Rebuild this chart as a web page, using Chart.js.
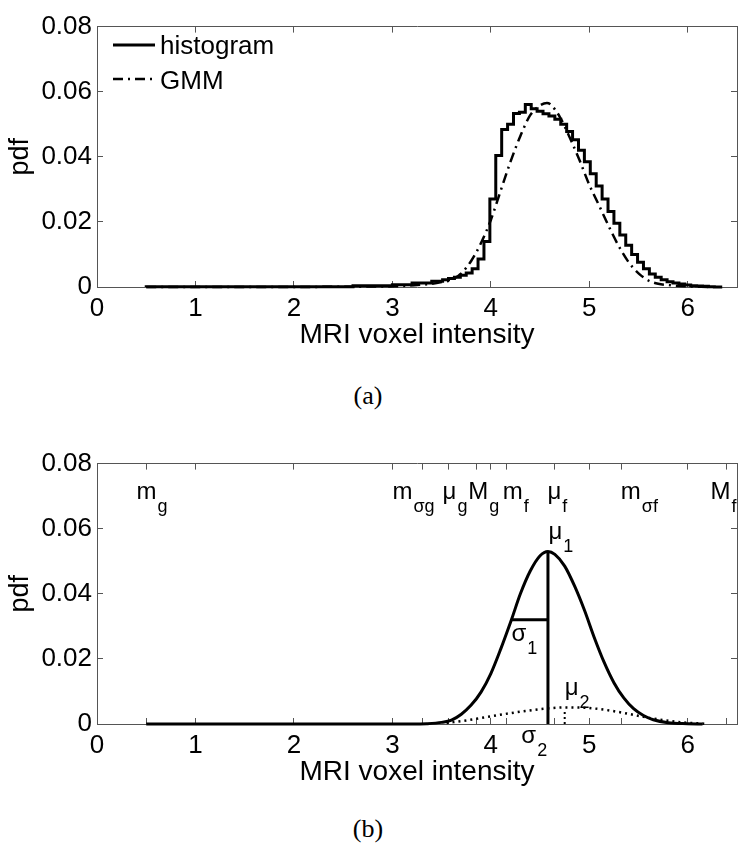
<!DOCTYPE html>
<html>
<head>
<meta charset="utf-8">
<script src="https://cdn.jsdelivr.net/npm/chart.js@4.4.1/dist/chart.umd.min.js"></script>
<style>
body { margin: 0; background: #fff; width: 750px; height: 855px; position: relative; overflow: hidden; }
.box { position: absolute; left: 0; width: 750px; height: 352px; }
#boxA { top: 0; }
#boxB { top: 437px; }
.cap { position: absolute; left: 0; width: 736px; text-align: center; line-height: 30px;
       font: 26px "Liberation Serif", "Times New Roman", serif; color: #000; }
</style>
</head>
<body>
<div class="box" id="boxA"><canvas id="chartA" width="750" height="352"></canvas></div>
<div class="cap" style="top:381px">(a)</div>
<div class="box" id="boxB"><canvas id="chartB" width="750" height="352"></canvas></div>
<div class="cap" style="top:814px">(b)</div>
<script>
// ---- data ----
// (a) histogram, bin left edges and heights (stepped)
const histX = [0.5, 2.6, 3.0, 3.2, 3.4, 3.51, 3.57, 3.63, 3.69, 3.75, 3.81, 3.87, 3.93, 3.99, 4.05,
  4.11, 4.17, 4.23, 4.29, 4.35, 4.41, 4.47, 4.53, 4.59, 4.65, 4.71, 4.77, 4.83, 4.89, 4.95,
  5.01, 5.07, 5.13, 5.19, 5.25, 5.31, 5.37, 5.43, 5.49, 5.55, 5.61, 5.67, 5.73, 5.79, 5.85,
  5.91, 5.97, 6.03, 6.09, 6.15, 6.21, 6.27, 6.35];
const histY = [0, 0.0001, 0.0004, 0.0007, 0.0012, 0.0018, 0.0022, 0.0026, 0.0030, 0.0036, 0.0043, 0.0056, 0.0086, 0.0140, 0.0270,
  0.0404, 0.0484, 0.0500, 0.0533, 0.0537, 0.0561, 0.0548, 0.0540, 0.0532, 0.0525, 0.0515, 0.0500, 0.0478, 0.0452, 0.0420,
  0.0385, 0.0348, 0.0310, 0.0270, 0.0232, 0.0196, 0.0160, 0.0128, 0.0100, 0.0076, 0.0056, 0.0040, 0.0030, 0.0022, 0.0016,
  0.0012, 0.0009, 0.0006, 0.0004, 0.0003, 0.0002, 0.0001, 0];

// (a) GMM fit
const gmmX = [0.5, 1, 2, 2.5, 3.0, 3.2, 3.4, 3.5, 3.6, 3.7, 3.8, 3.9, 4.0, 4.1, 4.2, 4.3, 4.4, 4.5, 4.57,
  4.6, 4.7, 4.8, 4.9, 5.0, 5.1, 5.2, 5.3, 5.4, 5.5, 5.6, 5.7, 5.8, 6.0, 6.2];
const gmmY = [0, 0, 0, 0.0001, 0.0002, 0.0005, 0.001, 0.0015, 0.0022, 0.0042, 0.008, 0.0135, 0.0206, 0.0296, 0.0385, 0.0464, 0.0528, 0.0558, 0.0565,
  0.0562, 0.0523, 0.046, 0.039, 0.0314, 0.025, 0.0185, 0.0125, 0.0076, 0.0042, 0.002, 0.001, 0.0006, 0.0002, 0];

// (b) first component (solid)
const comp1X = [0.5, 2.0, 3.2, 3.35, 3.5, 3.6, 3.7, 3.8, 3.9, 4.0, 4.1, 4.21, 4.3, 4.4, 4.5, 4.58,
  4.65, 4.75, 4.85, 4.95, 5.05, 5.15, 5.25, 5.35, 5.45, 5.55, 5.65, 5.8, 6.0, 6.15];
const comp1Y = [0, 0, 0, 0.0001, 0.0005, 0.0012, 0.0030, 0.0058, 0.0098, 0.0155, 0.0230, 0.0321, 0.0400, 0.0470, 0.0517, 0.0530,
  0.0521, 0.0485, 0.0424, 0.0350, 0.0266, 0.0190, 0.0127, 0.0080, 0.0047, 0.0026, 0.0013, 0.0004, 0.0001, 0];

// (b) second component (dotted)
const comp2X = [3.55, 3.75, 3.95, 4.15, 4.35, 4.55, 4.75, 4.95, 5.15, 5.35, 5.55, 5.75, 5.95, 6.17];
const comp2Y = [0.0003, 0.0011, 0.0021, 0.0031, 0.0040, 0.0047, 0.0051, 0.0050, 0.0044, 0.0034, 0.0022, 0.0012, 0.0005, 0.0001];

// (b) mean / sigma markers
const mu1 = 4.58, mu1Peak = 0.053;
const sigma1Left = 4.21, sigma1Level = 0.032;
const mu2 = 4.75, mu2Peak = 0.0046;

// (b) extra tick positions (m_g, m_sg, mu_g, M_g, m_f, mu_f, m_sf, M_f)
const markerTicks = [0.5, 3.31, 3.57, 3.85, 4.16, 4.65, 5.33, 6.39];
const intTicks = [0, 1, 2, 3, 4, 5, 6];
const yTicks = [0, 0.02, 0.04, 0.06, 0.08];

// text labels of (b): main letter, subscript, left edge x, baseline y
const markLabels = [
  ['m', 'g', 0.40, 0.069], ['m', 'σg', 3.0, 0.069], ['μ', 'g', 3.51, 0.069],
  ['M', 'g', 3.77, 0.069], ['m', 'f', 4.12, 0.069], ['μ', 'f', 4.575, 0.069],
  ['m', 'σf', 5.32, 0.069], ['M', 'f', 6.23, 0.069],
  ['μ', '1', 4.585, 0.0568], ['σ', '1', 4.21, 0.0256],
  ['μ', '2', 4.75, 0.0088], ['σ', '2', 4.31, -0.0058]
];

function pts(xs, ys) {
  return xs.map((x, i) => ({ x: x, y: ys[i] }));
}

const SANS = '"Liberation Sans", Arial, sans-serif';

// legend drawn inside the plot, lines stacked like the original
const innerLegend = {
  id: 'innerLegend',
  afterDraw(chart, args, opts) {
    if (!opts.rows) return;
    const ctx = chart.ctx;
    ctx.save();
    opts.rows.forEach((r) => {
      const ds = chart.data.datasets[r.index];
      ctx.strokeStyle = ds.borderColor;
      ctx.lineWidth = ds.borderWidth;
      ctx.setLineDash(ds.borderDash || []);
      ctx.beginPath();
      ctx.moveTo(113, r.lineY);
      ctx.lineTo(155, r.lineY);
      ctx.stroke();
      ctx.setLineDash([]);
      ctx.fillStyle = '#000';
      ctx.font = '26px ' + SANS;
      ctx.textBaseline = 'alphabetic';
      ctx.fillText(ds.label, 160, r.baseY);
    });
    ctx.restore();
  }
};

// subscripted labels placed through the scales
const subLabels = {
  id: 'subLabels',
  afterDatasetsDraw(chart, args, opts) {
    if (!opts.items) return;
    const ctx = chart.ctx;
    const xs = chart.scales.x, ys = chart.scales.y;
    ctx.save();
    ctx.fillStyle = '#000';
    ctx.textAlign = 'left';
    ctx.textBaseline = 'alphabetic';
    opts.items.forEach((it) => {
      const px = xs.getPixelForValue(it[2]);
      const py = ys.getPixelForValue(it[3]);
      ctx.font = '24px ' + SANS;
      ctx.fillText(it[0], px, py);
      const w = ctx.measureText(it[0]).width;
      ctx.font = '18px ' + SANS;
      ctx.fillText(it[1], px + w + 1, py + 13);
    });
    ctx.restore();
  }
};

function axes(extraTicks) {
  const frame = { color: '#555', width: 1 };
  const tickVals = extraTicks ? intTicks.concat(extraTicks).sort((a, b) => a - b) : intTicks;
  return {
    x: {
      type: 'linear', position: 'bottom', min: 0, max: 6.5,
      border: frame,
      grid: { drawOnChartArea: false, tickLength: -6, color: '#555' },
      ticks: {
        autoSkip: false, maxRotation: 0, padding: 12, color: '#000',
        font: { family: SANS, size: 26 },
        callback: (v) => (Number.isInteger(v) ? String(v) : '')
      },
      afterBuildTicks: (s) => { s.ticks = tickVals.map((v) => ({ value: v })); },
      title: { display: true, text: 'MRI voxel intensity', color: '#000', font: { family: SANS, size: 28 }, padding: 0 },
      afterFit: (s) => { s.height = 65; }
    },
    x2: {
      type: 'linear', position: 'top', min: 0, max: 6.5,
      border: frame,
      grid: { drawOnChartArea: false, tickLength: -6, color: '#555' },
      ticks: { display: false, autoSkip: false },
      afterBuildTicks: (s) => { s.ticks = tickVals.map((v) => ({ value: v })); },
      afterFit: (s) => { s.height = 18; }
    },
    y: {
      type: 'linear', position: 'left', min: 0, max: 0.08,
      border: frame,
      grid: { drawOnChartArea: false, tickLength: -6, color: '#555' },
      ticks: {
        padding: 11, color: '#000', font: { family: SANS, size: 26 },
        callback: (v) => (v === 0 ? '0' : v.toFixed(2))
      },
      afterBuildTicks: (s) => { s.ticks = yTicks.map((v) => ({ value: v })); },
      title: { display: true, text: 'pdf', color: '#000', font: { family: SANS, size: 27 }, padding: { top: 4, bottom: 0 } },
      afterFit: (s) => { s.width = 97; }
    },
    y2: {
      type: 'linear', position: 'right', min: 0, max: 0.08,
      border: frame,
      grid: { drawOnChartArea: false, tickLength: -6, color: '#555' },
      ticks: { display: false },
      afterBuildTicks: (s) => { s.ticks = yTicks.map((v) => ({ value: v })); },
      afterFit: (s) => { s.width = 13; }
    }
  };
}

const baseOpts = {
  responsive: false,
  animation: false,
  layout: { padding: 0 },
  elements: { point: { radius: 0 } }
};

new Chart(document.getElementById('chartA'), {
  type: 'line',
  data: {
    datasets: [
      { label: 'histogram', data: pts(histX, histY), stepped: 'after', borderColor: '#000', borderWidth: 3, clip: 5 },
      { label: 'GMM', data: pts(gmmX, gmmY), borderColor: '#000', borderWidth: 2.5, borderDash: [10, 5, 2, 5],
        cubicInterpolationMode: 'monotone', clip: 5 }
    ]
  },
  options: Object.assign({}, baseOpts, {
    scales: axes(null),
    plugins: {
      legend: { display: false },
      tooltip: { enabled: false },
      innerLegend: { rows: [{ index: 0, lineY: 45, baseY: 54 }, { index: 1, lineY: 79, baseY: 89 }] }
    }
  }),
  plugins: [innerLegend]
});

new Chart(document.getElementById('chartB'), {
  type: 'line',
  data: {
    datasets: [
      { label: 'component 1', data: pts(comp1X, comp1Y), borderColor: '#000', borderWidth: 3,
        cubicInterpolationMode: 'monotone', clip: 5 },
      { label: 'component 2', data: pts(comp2X, comp2Y), borderColor: '#000', borderWidth: 2.5, borderDash: [2, 4],
        cubicInterpolationMode: 'monotone', clip: 5 },
      { label: 'mu1', data: pts([mu1, mu1], [0, mu1Peak]), borderColor: '#000', borderWidth: 3, clip: 5 },
      { label: 'sigma1', data: pts([sigma1Left, mu1], [sigma1Level, sigma1Level]), borderColor: '#000', borderWidth: 3 },
      { label: 'mu2', data: pts([mu2, mu2], [0, mu2Peak]), borderColor: '#000', borderWidth: 2, borderDash: [2, 3] }
    ]
  },
  options: Object.assign({}, baseOpts, {
    scales: axes(markerTicks),
    plugins: {
      legend: { display: false },
      tooltip: { enabled: false },
      subLabels: { items: markLabels }
    }
  }),
  plugins: [subLabels]
});
</script>
</body>
</html>
